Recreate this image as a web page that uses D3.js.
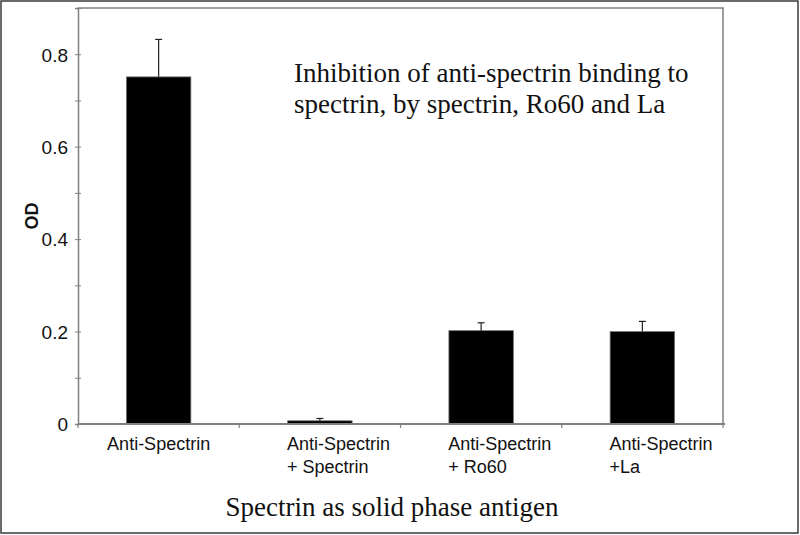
<!DOCTYPE html>
<html><head><meta charset="utf-8">
<script src="https://cdn.jsdelivr.net/npm/d3@7"></script>
<style>body{margin:0;background:#fff}svg{display:block}</style>
</head><body>
<svg id="c" width="800" height="535"></svg>
<script>
const categories = [["Anti-Spectrin"], ["Anti-Spectrin", "+ Spectrin"], ["Anti-Spectrin", "+ Ro60"], ["Anti-Spectrin", "+La"]];
const values = [0.751, 0.007, 0.202, 0.200];
const errorTops = [0.832, 0.012, 0.219, 0.222];
const yTicks = [0, 0.2, 0.4, 0.6, 0.8];
const yMinorTicks = [0, 0.1, 0.2, 0.3, 0.4, 0.5, 0.6, 0.7, 0.8, 0.9];
const titleLines = ["Inhibition of anti-spectrin binding to", "spectrin, by spectrin, Ro60 and La"];
const xTitle = "Spectrin as solid phase antigen";
const yTitle = "OD";

const svg = d3.select("#c");
const L = 78, R = 723, T = 8, B = 424;
const ids = categories.map((d, i) => i);
const x = d3.scaleBand().domain(ids).range([L, R]).paddingInner(0.6).paddingOuter(0.3);
const y = d3.scaleLinear().domain([0, 0.9]).range([B, T]);

// outer frame
svg.append("rect").attr("x", 1).attr("y", 1).attr("width", 797).attr("height", 532)
  .attr("fill", "#fff").attr("stroke", "#3a3a3a").attr("stroke-width", 1.5);

// plot frame top/right
svg.append("path").attr("d", `M${L},${y(0.9)}H${R}V${B}`).attr("fill", "none")
  .attr("stroke", "#808080").attr("stroke-width", 1.5);

// bars
svg.selectAll(".bar").data(values).enter().append("rect")
  .attr("x", (d, i) => x(i)).attr("y", d => y(d))
  .attr("width", x.bandwidth()).attr("height", d => y(0) - y(d))
  .attr("fill", "#000").attr("stroke", "#777").attr("stroke-width", 0.8);

// error bars
const eg = svg.selectAll(".err").data(errorTops).enter().append("g").attr("stroke", "#222").attr("stroke-width", 1.2);
eg.append("line").attr("x1", (d, i) => x(i) + x.bandwidth() / 2).attr("x2", (d, i) => x(i) + x.bandwidth() / 2)
  .attr("y1", (d, i) => y(values[i])).attr("y2", d => y(d));
eg.append("line").attr("x1", (d, i) => x(i) + x.bandwidth() / 2 - 3.5).attr("x2", (d, i) => x(i) + x.bandwidth() / 2 + 3.5)
  .attr("y1", d => y(d)).attr("y2", d => y(d));

// y axis
const yAxis = d3.axisLeft(y).tickValues(yMinorTicks).tickSize(3).tickFormat(d => yTicks.some(t => Math.abs(t - d) < 1e-9) ? d3.format("")(+d.toFixed(1)) : "");
const ya = svg.append("g").attr("transform", `translate(${L},0)`).call(yAxis);
ya.select(".domain").attr("stroke", "#808080").attr("stroke-width", 1.5);
ya.selectAll(".tick line").attr("stroke", "#808080").attr("x2", -3).attr("x1", 3);
ya.selectAll(".tick text").attr("x", -10).attr("dy", "0.36em").attr("font-family", "Liberation Sans, Arial, sans-serif").attr("font-size", 19).attr("fill", "#111");

// x axis
const xa = svg.append("g").attr("transform", `translate(0,${B})`);
xa.append("line").attr("x1", L).attr("x2", R + 2).attr("y1", 0).attr("y2", 0).attr("stroke", "#808080").attr("stroke-width", 2);
const bounds = ids.map(i => x(i) - x.step() * x.paddingInner() / 2).concat([R]);
xa.selectAll(".xt").data(bounds).enter().append("line")
  .attr("x1", d => d).attr("x2", d => d).attr("y1", 0).attr("y2", 4).attr("stroke", "#808080").attr("stroke-width", 1.2);

// x labels
const lab = svg.selectAll(".xl").data(categories).enter().append("text")
  .attr("font-family", "Liberation Sans, Arial, sans-serif").attr("font-size", 18).attr("fill", "#111")
  .attr("transform", (d, i) => {
    const cx = x(i) + x.bandwidth() / 2;
    return d.length === 1 ? `translate(${cx},450)` : `translate(${cx - 33},450)`;
  })
  .attr("text-anchor", d => d.length === 1 ? "middle" : "start");
lab.selectAll("tspan").data(d => d).enter().append("tspan")
  .attr("x", 0).attr("dy", (d, j) => j === 0 ? 0 : 23).text(d => d);

// y title
svg.append("text").attr("transform", "translate(38,216) rotate(-90)").attr("text-anchor", "middle")
  .attr("font-family", "Liberation Sans, Arial, sans-serif").attr("font-weight", "bold").attr("font-size", 18).attr("fill", "#111").text(yTitle);

// chart title
svg.append("g").selectAll("text").data(titleLines).enter().append("text")
  .attr("x", 294).attr("y", (d, i) => 82 + i * 31)
  .attr("font-family", "Liberation Serif, Times New Roman, serif").attr("font-size", 27).attr("fill", "#111").text(d => d);

// x title
svg.append("text").attr("x", 392).attr("y", 516).attr("text-anchor", "middle")
  .attr("font-family", "Liberation Serif, Times New Roman, serif").attr("font-size", 27).attr("fill", "#111").text(xTitle);
</script>
</body></html>
